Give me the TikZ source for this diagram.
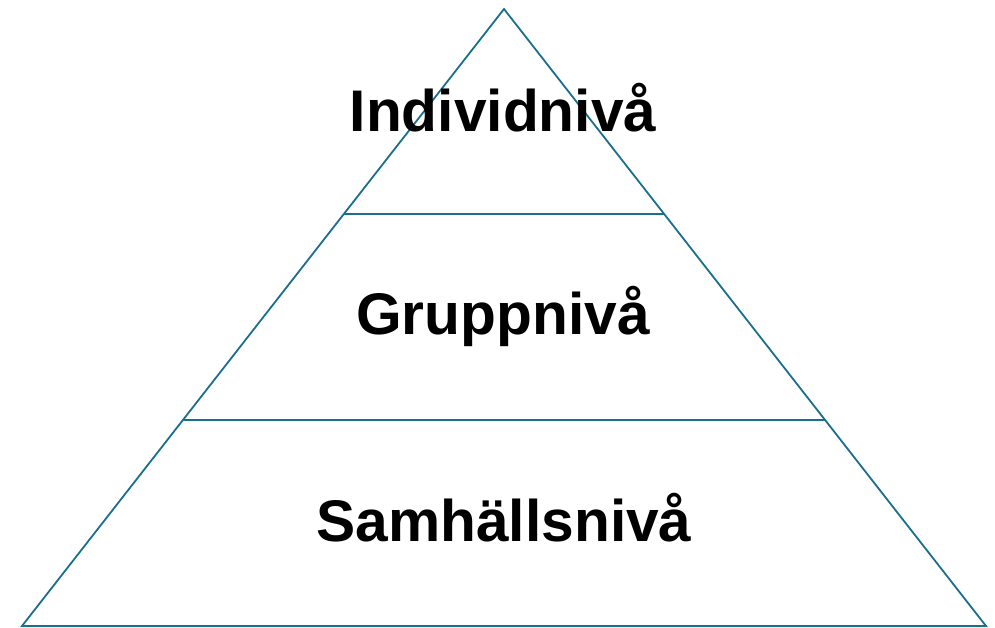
\documentclass[tikz,border=0pt]{standalone}
\usepackage{fontspec}
\setmainfont{Liberation Sans}
\definecolor{pyr}{HTML}{1B6E8E}
\begin{document}
\begin{tikzpicture}[x=1pt,y=-1pt,
  edge/.style={draw=pyr,line width=1.8pt,line join=miter},
  lbl/.style={anchor=base,inner sep=0pt,font=\fontsize{58.7}{60}\selectfont\bfseries,text=black}]
\useasboundingbox (0,0) rectangle (995,627);
\coordinate (apex) at (504,9);
\coordinate (bl) at (22,626);
\coordinate (br) at (986,626);
\coordinate (l1) at (344,214);
\coordinate (r1) at (664,214);
\coordinate (l2) at (183,420);
\coordinate (r2) at (825,420);
\draw[edge] (apex) -- (br) -- (bl) -- cycle;
\draw[edge] (l1) -- (r1);
\draw[edge] (l2) -- (r2);
\node[lbl] (t1) at (503,131) {Individnivå};
\node[lbl] (t2) at (503,334) {Gruppnivå};
\node[lbl] (t3) at (504,541) {Samhällsnivå};
\end{tikzpicture}
\end{document}
